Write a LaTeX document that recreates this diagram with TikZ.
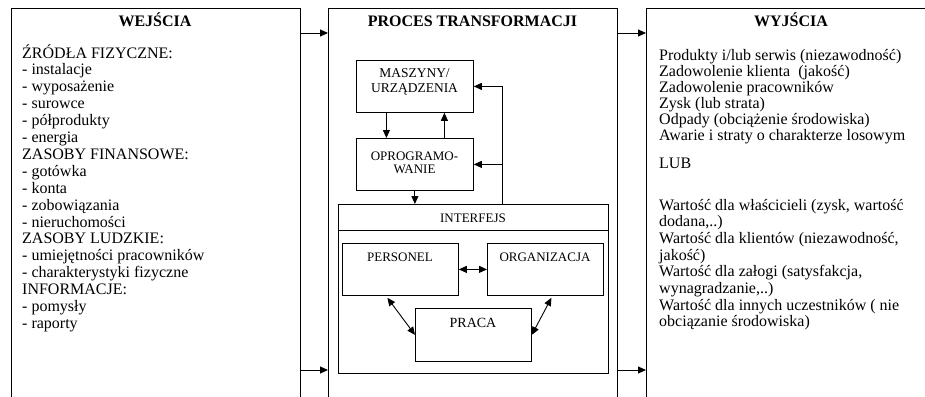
\documentclass[tikz,border=0pt]{standalone}
\usepackage{fontspec}
\setmainfont{Liberation Serif}
\usetikzlibrary{arrows.meta,positioning}

\begin{document}
\begin{tikzpicture}[
    x=1pt, y=-1pt,
    >={Triangle[length=8pt,width=7pt]},
    bigbox/.style={rectangle, draw, line width=0.9pt, minimum width=289pt, minimum height=420pt, anchor=north west, inner sep=0pt},
    box/.style={rectangle, draw, line width=0.8pt, anchor=north west, inner sep=0pt},
    title/.style={font=\fontsize{16}{19}\selectfont\bfseries, anchor=base, inner sep=0pt},
    list/.style={font=\fontsize{16}{16.9}\selectfont, align=left, anchor=base west, inner sep=0pt},
    lbl/.style={font=\fontsize{13}{13}\selectfont, align=center, anchor=base, inner sep=0pt},
    arr/.style={->, line width=0.9pt},
    dblarr/.style={<->, line width=0.9pt}
]
    \useasboundingbox (0,0) rectangle (925,396);
    \clip (0,0) rectangle (925,396);

    \node[bigbox] (inputs) at (10.5,8) {};
    \node[bigbox] (process) at (328,8) {};
    \node[bigbox, minimum width=290pt] (outputs) at (646,8) {};

    \node[title] (intitle) at (155,27) {WEJŚCIA};
    \node[title] (proctitle) at (472.5,27) {PROCES TRANSFORMACJI};
    \node[title] (outtitle) at (791,27) {WYJŚCIA};

    \node[list] (inlist) at (22,328.4) {ŹRÓDŁA FIZYCZNE:\\- instalacje\\- wyposażenie\\- surowce\\- półprodukty\\- energia\\ZASOBY FINANSOWE:\\- gotówka\\- konta\\- zobowiązania\\- nieruchomości\\ZASOBY LUDZKIE:\\- umiejętności pracowników\\- charakterystyki fizyczne\\INFORMACJE:\\- pomysły\\- raporty};
    \node[list, font=\fontsize{16}{16}\selectfont] (outlist) at (659,140) {Produkty i/lub serwis (niezawodność)\\Zadowolenie klienta~ (jakość)\\Zadowolenie pracowników\\Zysk (lub strata)\\Odpady (obciążenie środowiska)\\Awarie i straty o charakterze losowym};
    \node[list] (lub) at (659,168) {LUB};
    \node[list, font=\fontsize{16}{16.7}\selectfont] (values) at (659,326.9) {Wartość dla właścicieli (zysk, wartość\\dodana,..)\\Wartość dla klientów (niezawodność,\\jakość)\\Wartość dla załogi (satysfakcja,\\wynagradzanie,..)\\Wartość dla innych uczestników ( nie\\obciązanie środowiska)};

    \node[box, minimum width=117pt, minimum height=52pt] (masz) at (356,60) {};
    \node[box, minimum width=117pt, minimum height=52pt] (oprog) at (356,138) {};
    \node[box, minimum width=270pt, minimum height=169pt] (iface) at (338,204) {};
    \node[box, minimum width=116pt, minimum height=52pt] (pers) at (342,243) {};
    \node[box, minimum width=116pt, minimum height=52pt] (org) at (487,243) {};
    \node[box, minimum width=116pt, minimum height=53pt] (praca) at (415,308) {};

    \node[lbl, font=\fontsize{13.5}{15}\selectfont] (masztxt) at (414.5,92) {MASZYNY/\\URZĄDZENIA};
    \node[lbl] (oprogtxt) at (414.5,173) {OPROGRAMO-\\WANIE};
    \node[lbl] (ifacetxt) at (473,222) {INTERFEJS};
    \node[lbl] (perstxt) at (400,261) {PERSONEL};
    \node[lbl] (orgtxt) at (545,261) {ORGANIZACJA};
    \node[lbl, font=\fontsize{14}{14}\selectfont] (pracatxt) at (473,327) {PRACA};

    \coordinate (fb) at (502,86);

    \draw[arr] ([yshift=-25pt]inputs.north east) -- ([yshift=-25pt]process.north west);
    \draw[arr] ([yshift=-362pt]inputs.north east) -- ([yshift=-362pt]process.north west);
    \draw[arr] ([yshift=-25pt]process.north east) -- ([yshift=-25pt]outputs.north west);
    \draw[arr] ([yshift=-362pt]process.north east) -- ([yshift=-362pt]outputs.north west);

    \draw[arr] ([xshift=-28.5pt]masz.south) -- ([xshift=-28.5pt]oprog.north);
    \draw[arr] ([xshift=29.5pt]oprog.north) -- ([xshift=29.5pt]masz.south);
    \draw[arr] (oprog.south) -- (oprog.south |- iface.north);
    \draw[arr] (iface.north -| fb) |- (masz.east);
    \draw[arr] (iface.north -| fb) |- (oprog.east);
    \draw[line width=0.8pt] ([yshift=-26pt]iface.north west) -- ([yshift=-26pt]iface.north east);

    \draw[dblarr] (pers.east) -- (org.west);
    \draw[dblarr] ([xshift=-13pt,yshift=-2pt]pers.south) -- (praca.west);
    \draw[dblarr] ([xshift=6pt,yshift=-2pt]org.south) -- (praca.east);
\end{tikzpicture}
\end{document}
